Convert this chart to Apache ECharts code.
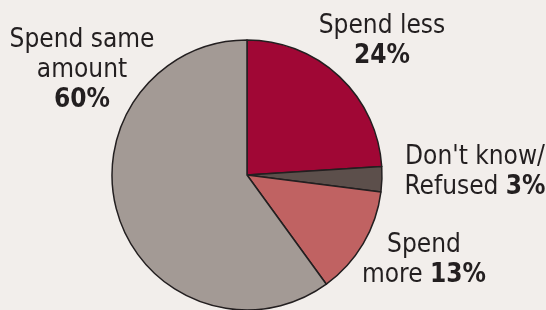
<!DOCTYPE html>
<html>
<head>
<meta charset="utf-8">
<script src="https://cdn.jsdelivr.net/npm/echarts@6/dist/echarts.min.js"></script>
<style>
html,body{margin:0;padding:0;background:#f2eeeb;}
#c{width:546px;height:310px;}
</style>
</head>
<body>
<div id="c"></div>
<script>
var categories = ['Spend less', "Don't know/ Refused", 'Spend more', 'Spend same amount'];
var values = [24, 3, 13, 60];
var labelText = ['Spend less\n', "Don't know/\nRefused ", 'Spend\nmore ', 'Spend same\namount\n'];
var colors = ['#a00735', '#5c4f4b', '#c06262', '#a39a95'];
var labelPos = [[382, 41], [475, 172], [424, 260], [82, 70]];

var chart = echarts.init(document.getElementById('c'), null, {renderer: 'canvas'});
var FONT = '"DejaVu Sans Condensed", "Liberation Sans", sans-serif';
var FS = 26;
chart.setOption({
  backgroundColor: '#f2eeeb',
  animation: false,
  series: [{
    type: 'pie',
    center: [247, 175],
    radius: [0, 135],
    startAngle: 90,
    clockwise: true,
    avoidLabelOverlap: false,
    data: categories.map(function (c, i) {
      return {name: c, value: values[i], itemStyle: {color: colors[i]}};
    }),
    itemStyle: {borderColor: '#231f20', borderWidth: 1.5},
    emphasis: {disabled: true},
    labelLine: {show: false},
    label: {
      show: true,
      position: 'outside',
      align: 'center',
      color: '#231f20',
      fontFamily: FONT,
      fontSize: FS,
      lineHeight: 30,
      formatter: function (p) {
        return labelText[p.dataIndex] + '{b|' + p.value + '%}';
      },
      rich: {
        b: {fontWeight: 'bold', fontFamily: FONT, fontSize: FS, lineHeight: 30, color: '#231f20'}
      }
    },
    labelLayout: function (p) {
      var pos = labelPos[p.dataIndex];
      return {x: pos[0], y: pos[1], align: 'center', verticalAlign: 'middle'};
    }
  }]
});
</script>
</body>
</html>
